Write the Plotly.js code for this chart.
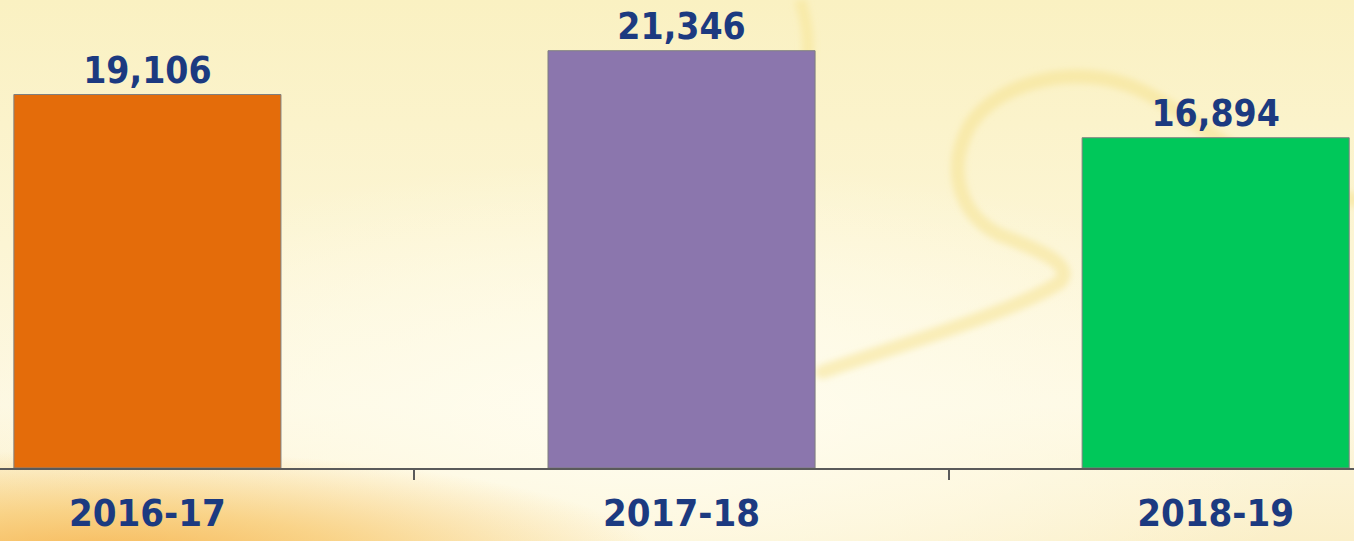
<!DOCTYPE html>
<html>
<head>
<meta charset="utf-8">
<script src="https://cdn.plot.ly/plotly-3.0.1.min.js"></script>
<style>
  html, body { margin: 0; padding: 0; width: 1354px; height: 541px; overflow: hidden; }
  #bg {
    position: absolute; left: 0; top: 0; width: 1354px; height: 541px;
    background:
      radial-gradient(ellipse 560px 110px at 100px 560px, rgba(246,180,80,0.95) 0%, rgba(248,200,110,0.75) 45%, rgba(252,228,160,0) 100%),
      radial-gradient(ellipse 700px 260px at 650px 420px, rgba(255,253,240,0.95) 0%, rgba(255,252,235,0.6) 50%, rgba(255,250,225,0) 100%),
      linear-gradient(180deg, #FAF1C2 0%, #FCF5D4 45%, #FDF8E2 75%, #FBEFC8 100%);
  }
  #deco { position: absolute; left: 0; top: 0; width: 1354px; height: 541px; }
  #chart { position: absolute; left: 0; top: 0; width: 1354px; height: 541px; }
</style>
</head>
<body>
<div id="bg"></div>
<svg id="deco" width="1354" height="541" viewBox="0 0 1354 541">
  <defs>
    <filter id="soft" x="-10%" y="-10%" width="120%" height="120%">
      <feGaussianBlur stdDeviation="3"/>
    </filter>
  </defs>
  <g filter="url(#soft)">
    <path d="M 822 372 C 900 345, 1020 310, 1060 282 C 1075 265, 1040 250, 1000 235 C 960 215, 945 170, 970 125 C 1000 80, 1080 62, 1140 90 C 1200 118, 1240 170, 1354 200"
          fill="none" stroke="rgba(246,226,140,0.5)" stroke-width="14" stroke-linecap="round"/>
    <path d="M 800 0 C 808 25, 810 45, 806 70" fill="none" stroke="rgba(246,226,140,0.45)" stroke-width="12"/>
  </g>
</svg>
<div id="chart"></div>
<script>
const categories = ["2016-17", "2017-18", "2018-19"];
const values = [19106, 21346, 16894];
const barColors = ["#E46C0A", "#8B76AD", "#00C85A"];

const labelFont = "'DejaVu Sans Condensed', 'DejaVu Sans', sans-serif";
const navy = "#1C3A80";

const trace = {
  type: "bar",
  x: categories,
  y: values,
  width: 0.5,
  marker: { color: barColors, line: { color: "#7F7F7F", width: 1 } },
  text: values.map(v => v.toLocaleString("en-US")),
  textposition: "outside",
  cliponaxis: false,
  textfont: { family: labelFont, size: 37, weight: 700, color: navy },
  hoverinfo: "skip"
};

const layout = {
  width: 1354,
  height: 541,
  margin: { l: 0, r: 0, t: 0, b: 73, pad: 0 },
  paper_bgcolor: "rgba(0,0,0,0)",
  plot_bgcolor: "rgba(0,0,0,0)",
  showlegend: false,
  xaxis: {
    type: "category",
    range: [-0.276, 2.259],
    showgrid: false,
    zeroline: false,
    showline: true,
    linecolor: "#5A5A5A",
    linewidth: 2,
    ticks: "outside",
    tickson: "boundaries",
    ticklen: 10,
    tickwidth: 2,
    tickcolor: "#5A5A5A",
    tickfont: { family: labelFont, size: 38, weight: 700, color: navy },
    ticklabelstandoff: 10,
    fixedrange: true
  },
  yaxis: {
    range: [0, 23940],
    visible: false,
    showgrid: false,
    zeroline: false,
    fixedrange: true
  }
};

Plotly.newPlot("chart", [trace], layout, { displayModeBar: false, staticPlot: true });
</script>
</body>
</html>
